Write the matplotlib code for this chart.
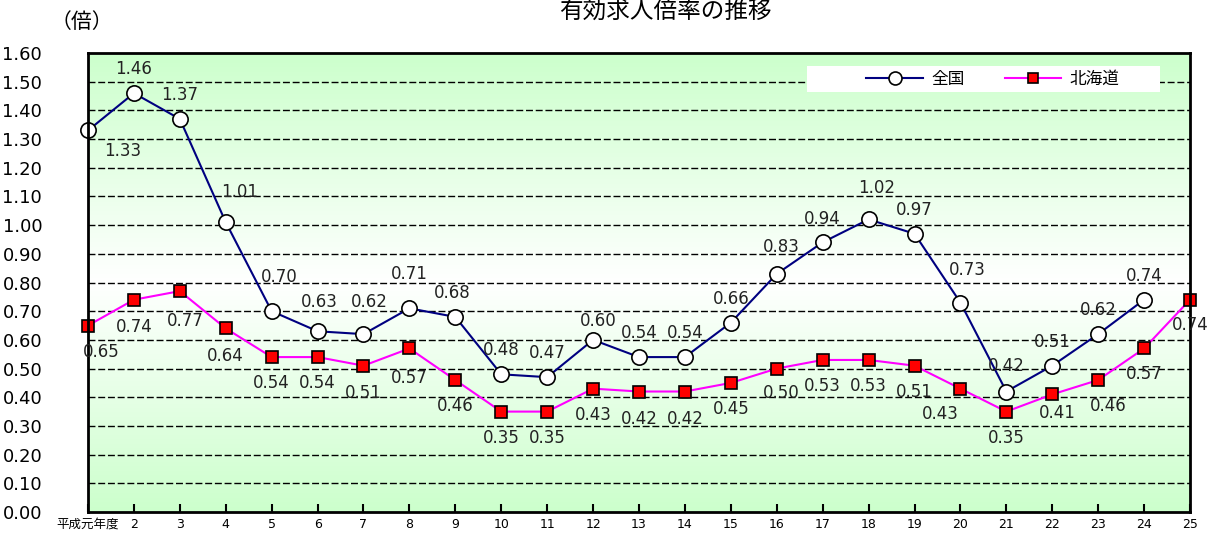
import numpy as np
import matplotlib
matplotlib.use("Agg")
import matplotlib.pyplot as plt
from matplotlib.colors import LinearSegmentedColormap
from matplotlib.patches import Rectangle

plt.rcParams['font.family'] = ['DejaVu Sans', 'Noto Sans CJK JP']

# data
years = list(range(1, 26))
year_labels = ["平成元年度"] + [str(y) for y in range(2, 26)]
zenkoku = [1.33, 1.46, 1.37, 1.01, 0.70, 0.63, 0.62, 0.71, 0.68, 0.48, 0.47, 0.60,
           0.54, 0.54, 0.66, 0.83, 0.94, 1.02, 0.97, 0.73, 0.42, 0.51, 0.62, 0.74]
hokkaido = [0.65, 0.74, 0.77, 0.64, 0.54, 0.54, 0.51, 0.57, 0.46, 0.35, 0.35, 0.43,
            0.42, 0.42, 0.45, 0.50, 0.53, 0.53, 0.51, 0.43, 0.35, 0.41, 0.46, 0.57, 0.74]
y_ticks = [0.0, 0.1, 0.2, 0.3, 0.4, 0.5, 0.6, 0.7, 0.8, 0.9, 1.0, 1.1, 1.2, 1.3, 1.4, 1.5, 1.6]

# label offsets in pixels (dx, dy with y down), styling only
zen_off = [(35, 21), (0, -24), (0, -24), (14, -30), (8, -34), (2, -29), (6, -32), (0, -34),
           (-3, -24), (0, -24), (0, -24), (5, -19), (0, -24), (0, -24), (0, -24), (5, -27),
           (0, -23), (8, -31), (0, -24), (7, -33), (0, -26), (0, -24), (0, -24), (0, -24)]
hok_off = [(13, 26), (0, 27), (5, 30), (0, 28), (0, 26), (0, 26), (0, 27), (0, 30),
           (0, 26), (0, 26), (0, 26), (0, 26), (0, 27), (0, 27), (0, 26), (5, 24),
           (0, 26), (0, 26), (0, 26), (-20, 25), (0, 26), (5, 19), (10, 26), (0, 26), (0, 25)]

W, H = 1211, 533
fig = plt.figure(figsize=(W / 100, H / 100), dpi=100)
ax = fig.add_axes([88 / W, 1 - 512 / H, 1102 / W, 459 / H])

cmap = LinearSegmentedColormap.from_list("g", ["#ccffcc", "#ffffff", "#ccffcc"])
grad = np.linspace(0, 1, 256).reshape(-1, 1)
ax.imshow(grad, extent=[1, 25, 0, 1.6], aspect='auto', cmap=cmap, zorder=0,
          origin='lower')

ax.set_xlim(1, 25)
ax.set_ylim(0, 1.6)
ax.set_yticks(y_ticks)
ax.set_yticklabels([f"{v:.2f}" for v in y_ticks], fontsize=13)
ax.set_xticks(years)
ax.set_xticklabels(year_labels, fontsize=9)
ax.tick_params(axis='y', length=0, pad=33)
ax.tick_params(axis='x', direction='in', length=6, width=1.5, pad=4)

for v in y_ticks[1:-1]:
    ax.axhline(v, color='black', linestyle=(0, (5, 2)), linewidth=1, zorder=1)

for s in ax.spines.values():
    s.set_linewidth(2)
    s.set_zorder(5)

ax.plot(years[:len(zenkoku)], zenkoku, color='#000080', linewidth=1.5, marker='o',
        markersize=11, markerfacecolor='white', markeredgecolor='black',
        markeredgewidth=1.2, label='全国', zorder=4, clip_on=False)
ax.plot(years, hokkaido, color='#ff00ff', linewidth=1.5, marker='s',
        markersize=9, markerfacecolor='#ff0000', markeredgecolor='black',
        markeredgewidth=1.2, label='北海道', zorder=4, clip_on=False)

for x, v, (dx, dy) in zip(years, zenkoku, zen_off):
    ax.annotate(f"{v:.2f}", (x, v), xytext=(dx, -dy), textcoords='offset pixels',
                ha='center', va='center', fontsize=12, color='#222222', zorder=6,
                annotation_clip=False)
for x, v, (dx, dy) in zip(years, hokkaido, hok_off):
    ax.annotate(f"{v:.2f}", (x, v), xytext=(dx, -dy), textcoords='offset pixels',
                ha='center', va='center', fontsize=12, color='#222222', zorder=6,
                annotation_clip=False)

# legend box
fig.patches.append(Rectangle((807 / W, 1 - 92 / H), 353 / W, 26 / H,
                             transform=fig.transFigure, facecolor='white',
                             edgecolor='none', zorder=7))
leg = fig.legend(loc='center', bbox_to_anchor=(993 / W, 1 - 79 / H),
                 ncol=2, frameon=False, fontsize=12, handlelength=3.4,
                 columnspacing=2.4, handletextpad=0.5, borderpad=0,
                 markerscale=0.85)
leg.set_zorder(8)

fig.text(82 / W, 1 - 22 / H, "（倍）", fontsize=15, ha='center', va='center',
         family=['Noto Sans CJK JP'])
fig.text(665 / W, 1.0, "有効求人倍率の推移", fontsize=17, ha='center',
         va='top', style='italic', family=['Noto Sans CJK JP'])

fig.savefig("out.png", dpi=100)
